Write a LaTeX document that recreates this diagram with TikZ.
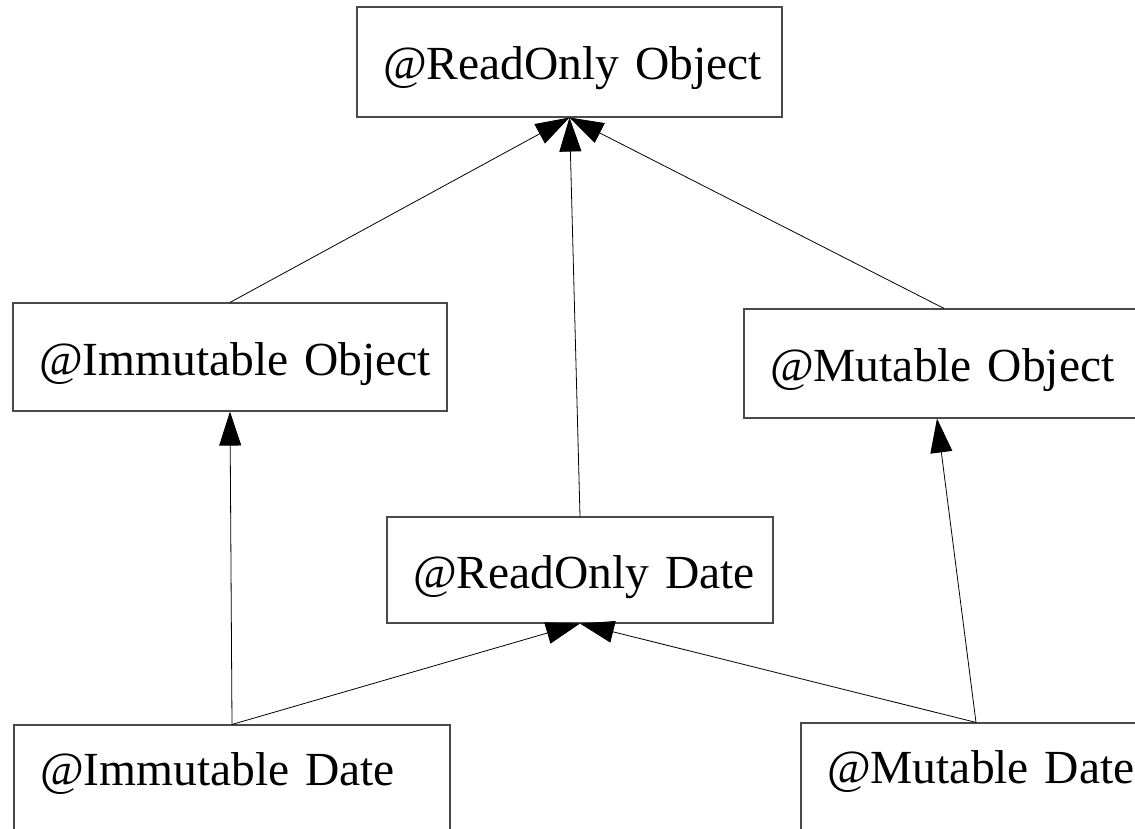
\documentclass[tikz,border=0pt]{standalone}
\usepackage{fontspec}
\setmainfont{Liberation Serif}
\usepackage{tikz}
\usetikzlibrary{arrows.meta, positioning}
\definecolor{qualframe}{HTML}{4A4A4A}

\begin{document}
\begin{tikzpicture}[x=1pt,y=-1pt,
    qualbox/.style={draw=qualframe,line width=1.1pt,rectangle,align=left,
      inner xsep=26pt,inner ysep=0pt,text height=46pt,text depth=10pt,
      font=\fontsize{47.5}{56}\selectfont},
    datebox/.style={qualbox,minimum height=108pt,text height=39pt,text depth=27pt},
    subtype/.style={draw,line width=0.8pt,-{Triangle[length=34pt,width=22pt]}}]
        \useasboundingbox (0,0) rectangle (1135,829);
        % top of the lattice
        \node[qualbox,text width=373pt,minimum height=110pt] (roobj) at (569.5,62) {\mbox{@ReadOnly Object}};
        % object qualifiers
        \node[qualbox,text width=382pt,minimum height=108pt] (imobj) at (230,357) {\mbox{@Immutable Object}};
        \node[qualbox,text width=348pt,minimum height=109pt] (muobj) at (944,363.5) {\mbox{@Mutable Object}};
        \node[qualbox,text width=334pt,minimum height=106pt] (rodate) at (580,570) {\mbox{@ReadOnly Date}};
        % date qualifiers (cut at the bottom)
        \node[datebox,text width=384pt] (imdate) at (232,779) {\mbox{@Immutable Date}};
        \node[datebox,text width=298pt] (mudate) at (976,777) {\mbox{@Mutable Date}};
        % subtyping edges
        \foreach \s in {imobj,muobj,rodate} {
          \draw[subtype] (\s.north) -- (roobj.south);
        }
        \draw[subtype] (imdate.north) -- (imobj.south);
        \draw[subtype] (imdate.north) -- (rodate.south);
        \draw[subtype] (mudate.north) -- (rodate.south);
        \draw[subtype] (mudate.north) -- ([xshift=-7pt]muobj.south);
      \end{tikzpicture}
\end{document}
